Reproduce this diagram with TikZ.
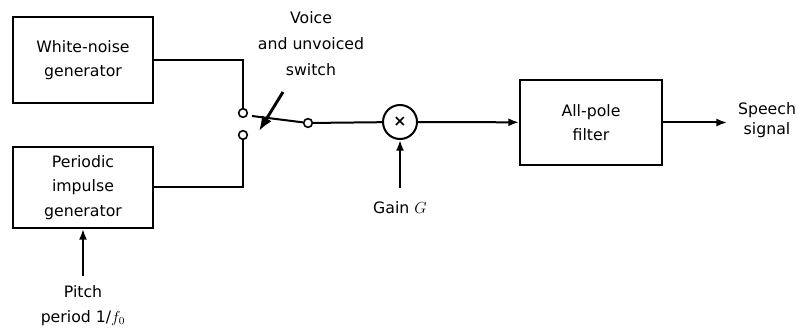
\documentclass[tikz,border=0pt]{standalone}
\usepackage{fontspec}
\setmainfont{DejaVu Sans}
\usepackage{tikz}
\usetikzlibrary{arrows.meta,positioning}

\begin{document}
\begin{tikzpicture}[
  x=0.75pt, y=-0.75pt,
  font=\fontsize{11.8}{18.5}\selectfont,
  block/.style={draw, line width=1.5pt, align=center, inner sep=1pt},
  contact/.style={circle, draw, line width=1.2pt, fill=white, minimum size=6.5pt, inner sep=0pt},
  mult/.style={circle, draw, line width=1.5pt, minimum size=25.5pt, inner sep=0pt},
  tag/.style={align=center, inner sep=0pt},
  wire/.style={line width=1.5pt},
  >={Latex[length=8pt, width=6pt]}
]
\useasboundingbox (0,0) rectangle (798,331);

% Source blocks on the left
\node[block, minimum width=105pt, minimum height=64.5pt] (noise)    at (83,60)    {White-noise\\generator};
\node[block, minimum width=105pt, minimum height=60.75pt] (impulse) at (83,187.5) {Periodic\\impulse\\generator};

% Switch contacts
\node[contact] (ctop) at (243,113) {};
\node[contact] (cbot) at (243,135) {};
\node[contact] (cpiv) at (308,123) {};
\coordinate (blade) at (252,116);
\coordinate (swtail) at (283,92);
\coordinate (swtip) at (259,131);

% Gain, filter and labels
\node[mult] (gainx) at (400,122) {\textbf{×}};
\node[block, minimum width=106.5pt, minimum height=63.75pt] (filter) at (591,122.5) {All-pole\\filter};
\node[tag, font=\fontsize{11.8}{19.5}\selectfont] (swlabel) at (311,44) {Voice\\and unvoiced\\switch};
\node[tag] (gainlabel) at (400,208) {Gain $G$};
\node[tag] (pitch) at (83,305.5) {Pitch\\period 1/$f_0$};
\node[tag, font=\fontsize{11.8}{15}\selectfont] (speech) at (767,120) {Speech\\signal};

% Connections
\draw[wire] (noise.east) -| (ctop.north);
\draw[wire] (impulse.east) -| (cbot.south);
\draw[wire] (blade) -- (cpiv);
\draw[line width=2.2pt, -{Latex[length=11pt, width=8.5pt]}] (swtail) -- (swtip);
\draw[wire] (cpiv) -- (gainx);
\draw[wire, ->] (gainx) -- (filter);
\draw[wire, ->, shorten >=8pt] (filter) -- (speech.west |- filter.east);
\draw[wire, ->, shorten <=10pt] (gainlabel.north) -- (gainx);
\draw[wire, ->, shorten <=7pt] (pitch.north) -- (impulse);
\end{tikzpicture}
\end{document}
